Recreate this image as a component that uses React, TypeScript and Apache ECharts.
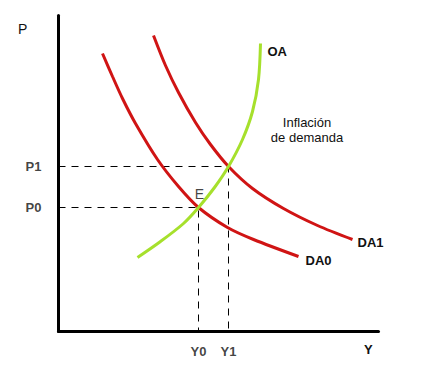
import React, { useEffect, useRef } from "react";
import * as echarts from "echarts";

// Demand curve DA0 (quantity, price)
const da0Quantity = [44, 54, 64, 77, 99, 120, 140, 169, 195, 240];
const da0Price = [278, 255, 233, 208, 172, 145, 124, 104, 92, 75];
// Demand curve DA1
const da1Quantity = [95, 107, 120, 137, 152, 170, 194, 225, 259, 294];
const da1Price = [296, 266, 239, 209, 187, 165, 143, 123, 106, 92];
// Supply curve OA
const oaQuantity = [79, 102, 125, 140, 156, 170, 184, 194, 200, 202];
const oaPrice = [74, 90, 108, 124, 144, 165, 192, 220, 252, 288];

// Equilibria
const eqKeys = ["0", "1"];
const eqQuantity = [140, 170];
const eqPrice = [124, 165];
const priceTickLabels = ["P0", "P1"];
const quantityTickLabels = ["Y0", "Y1"];

const RED = "#d01414";
const GREEN = "#a6e02c";
const FONT = "'Liberation Sans', Arial, sans-serif";

function curve(name: string, xs: number[], ys: number[], color: string, labelDist: number, labelOffset: number[]) {
  return {
    type: "line",
    name,
    smooth: 0.3,
    symbol: "none",
    lineStyle: { color, width: 3 },
    data: xs.map((x, i) => [x, ys[i]]),
    endLabel: {
      show: true,
      formatter: name,
      distance: labelDist,
      offset: labelOffset,
      color: "#111",
      fontFamily: FONT,
      fontWeight: "bold",
      fontSize: 13,
    },
    z: 3,
  };
}

export default function App() {
  const ref = useRef<HTMLDivElement>(null);
  useEffect(() => {
    document.body.style.margin = "0";
    const chart = echarts.init(ref.current!, undefined, { renderer: "svg" });
    const guides = eqKeys.map((k, i) => ({
      type: "line",
      name: "guide" + k,
      symbol: "none",
      lineStyle: { color: "#000", width: 1, type: [7, 6] },
      data: [
        [0, eqPrice[i]],
        [eqQuantity[i], eqPrice[i]],
        [eqQuantity[i], 0],
      ],
      z: 1,
    }));
    chart.setOption({
      animation: false,
      backgroundColor: "#fff",
      grid: { left: 58.5, top: 15.5, width: 320, height: 316 },
      xAxis: {
        type: "value",
        min: 0,
        max: 320,
        axisLine: { show: true, lineStyle: { color: "#000", width: 3 } },
        axisTick: { show: false },
        axisLabel: { show: false },
        splitLine: { show: false },
      },
      yAxis: {
        type: "value",
        min: 0,
        max: 316,
        axisLine: { show: true, lineStyle: { color: "#000", width: 3 } },
        axisTick: { show: false },
        axisLabel: { show: false },
        splitLine: { show: false },
      },
      series: [
        ...guides,
        curve("DA0", da0Quantity, da0Price, RED, 7, [0, 4]),
        curve("DA1", da1Quantity, da1Price, RED, 5, [0, 3]),
        curve("OA", oaQuantity, oaPrice, GREEN, 7, [0, 8]),
        {
          type: "scatter",
          name: "priceTicks",
          symbolSize: 0,
          data: eqPrice.map((p, i) => ({ value: [0, p], name: priceTickLabels[i] })),
          label: {
            show: true,
            position: "left",
            distance: 17,
            formatter: (d: any) => d.name,
            color: "#111",
            fontFamily: FONT,
            fontWeight: "bold",
            fontSize: 13,
          },
        },
        {
          type: "scatter",
          name: "quantityTicks",
          symbolSize: 0,
          data: eqQuantity.map((q, i) => ({ value: [q, 0], name: quantityTickLabels[i] })),
          label: {
            show: true,
            position: "bottom",
            distance: 13,
            formatter: (d: any) => d.name,
            color: "#111",
            fontFamily: FONT,
            fontWeight: "bold",
            fontSize: 13,
          },
        },
        {
          type: "scatter",
          name: "equilibrium",
          symbolSize: 0,
          data: [{ value: [eqQuantity[0], eqPrice[0]], name: "E" }],
          label: {
            show: true,
            position: "top",
            distance: 7,
            offset: [1, 0],
            formatter: "E",
            color: "#111",
            fontFamily: FONT,
            fontSize: 14,
          },
          z: 4,
        },
      ],
      graphic: [
        { type: "text", x: 18, y: 22, style: { text: "P", font: `14px ${FONT}`, fill: "#111" } },
        { type: "text", x: 364, y: 343, style: { text: "Y", font: `bold 13px ${FONT}`, fill: "#111" } },
        {
          type: "text",
          x: 307,
          y: 115,
          style: {
            text: "Inflación\nde demanda",
            font: `13px ${FONT}`,
            fill: "#111",
            align: "center",
            lineHeight: 15,
          },
        },
      ],
    });
    return () => chart.dispose();
  }, []);
  return <div ref={ref} style={{ width: 425, height: 377 }} />;
}
